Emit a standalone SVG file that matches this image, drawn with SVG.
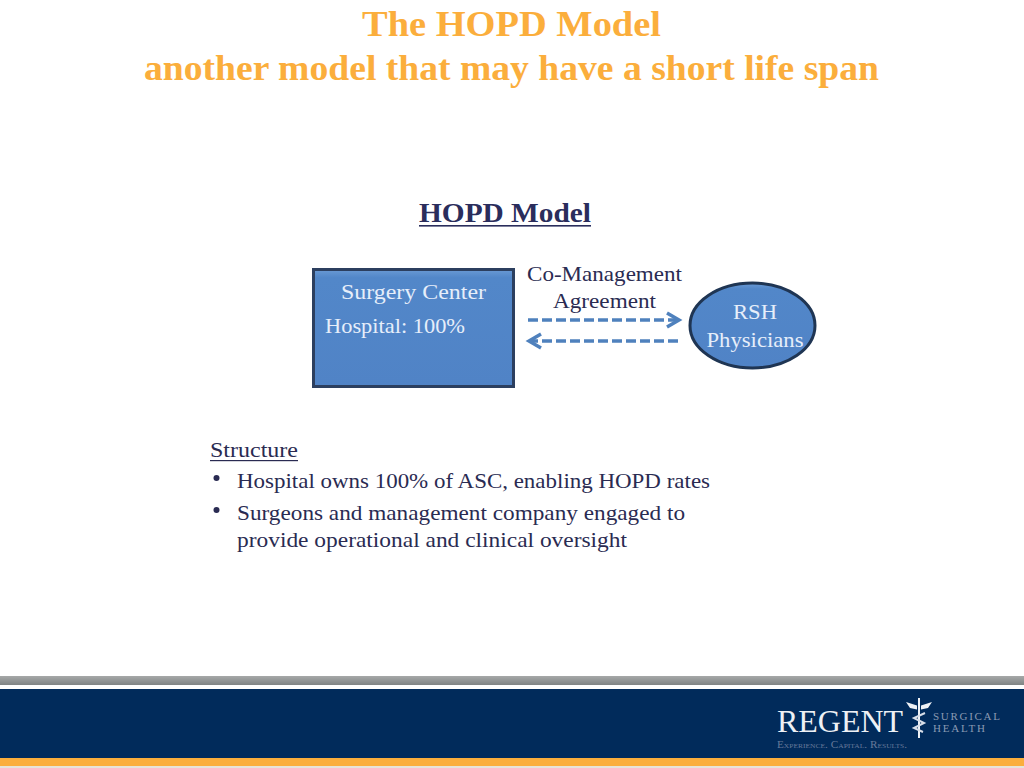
<svg xmlns="http://www.w3.org/2000/svg" width="1024" height="768" viewBox="0 0 1024 768">
<defs>
<style>
text{font-family:"Liberation Serif","Times New Roman",serif}
.title{font-size:36px;font-weight:bold;fill:#fbae3c}
.dark{font-size:22px;fill:#2a2b52}
.light{font-size:22px;fill:#e6eefa}
.link{fill:none;stroke:#4f81bd;stroke-width:3.5;stroke-dasharray:10 4}
.head{fill:none;stroke:#4f81bd;stroke-width:3.5}
</style>
<linearGradient id="grey" x1="0" y1="0" x2="0" y2="1"><stop offset="0" stop-color="#a6a8a8"/><stop offset="1" stop-color="#808484"/></linearGradient>
<linearGradient id="nodeFill" x1="0" y1="0" x2="0" y2="1"><stop offset="0" stop-color="#6a9ad4"/><stop offset="0.07" stop-color="#5287c9"/><stop offset="1" stop-color="#5083c6"/></linearGradient>
</defs>
<rect width="1024" height="768" fill="#ffffff"/>
<g id="title">
<text class="title" x="362" y="36" textLength="299" lengthAdjust="spacingAndGlyphs">The HOPD Model</text>
<text class="title" x="144" y="80" textLength="735" lengthAdjust="spacingAndGlyphs">another model that may have a short life span</text>
</g>
<g id="heading">
<text x="419" y="222" font-size="27" font-weight="bold" fill="#2a2d5c" textLength="172" lengthAdjust="spacingAndGlyphs">HOPD Model</text>
<rect x="419" y="225" width="172" height="1.6" fill="#2a2d5c"/>
</g>
<g id="connectors">
<path class="link" d="M528 320H676"/>
<path class="head" d="M667 313L679 320L667 327"/>
<path class="link" d="M678 341H532"/>
<path class="head" d="M541 334L529 341L541 348"/>
</g>
<g id="label-agreement">
<text class="dark" x="604.500" y="281" text-anchor="middle" textLength="155" lengthAdjust="spacingAndGlyphs">Co-Management</text>
<text class="dark" x="604.500" y="308" text-anchor="middle" textLength="103" lengthAdjust="spacingAndGlyphs">Agreement</text>
</g>
<g id="node-surgery-center">
<rect x="313.500" y="269.500" width="200" height="117" fill="url(#nodeFill)" stroke="#2c3f5f" stroke-width="3"/>
<text class="light" x="341" y="299" textLength="145" lengthAdjust="spacingAndGlyphs">Surgery Center</text>
<text class="light" x="325" y="333" textLength="140" lengthAdjust="spacingAndGlyphs">Hospital: 100%</text>
</g>
<g id="node-rsh-physicians">
<ellipse cx="752.500" cy="325.500" rx="62.500" ry="42.500" fill="url(#nodeFill)" stroke="#1f3553" stroke-width="3"/>
<text class="light" x="755" y="319" text-anchor="middle" textLength="44" lengthAdjust="spacingAndGlyphs">RSH</text>
<text class="light" x="755" y="347" text-anchor="middle" textLength="97" lengthAdjust="spacingAndGlyphs">Physicians</text>
</g>
<g id="structure">
<text class="dark" x="210" y="456.500" textLength="88" lengthAdjust="spacingAndGlyphs">Structure</text>
<rect x="210" y="460" width="88" height="1.200" fill="#2a2b52"/>
<circle cx="216.500" cy="478" r="3" fill="#2a2b52"/>
<text class="dark" x="237" y="488" textLength="473" lengthAdjust="spacingAndGlyphs">Hospital owns 100% of ASC, enabling HOPD rates</text>
<circle cx="216.500" cy="510" r="3" fill="#2a2b52"/>
<text class="dark" x="237" y="520" textLength="448" lengthAdjust="spacingAndGlyphs">Surgeons and management company engaged to</text>
<text class="dark" x="237" y="547" textLength="390" lengthAdjust="spacingAndGlyphs">provide operational  and clinical oversight</text>
</g>
<g id="footer">
<rect x="0" y="676" width="1024" height="9" fill="url(#grey)"/>
<rect x="0" y="689" width="1024" height="69" fill="#012b5b"/>
<rect x="0" y="758" width="1024" height="8" fill="#fbae3c"/>
<rect x="0" y="766" width="1024" height="2" fill="#e8e4d8"/>
</g>
<g id="logo">
<text x="777" y="732" font-size="31" fill="#eef1f5" textLength="126" lengthAdjust="spacingAndGlyphs">REGENT</text>
<text x="933" y="720" font-size="11" fill="#8a9ab2" textLength="67" lengthAdjust="spacing">SURGICAL</text>
<text x="933" y="732" font-size="11" fill="#8a9ab2" textLength="52" lengthAdjust="spacing">HEALTH</text>
<text x="777" y="748" font-size="10.500" fill="#66799a" textLength="130" lengthAdjust="spacingAndGlyphs" style="font-variant:small-caps">Experience. Capital. Results.</text>
<path d="M906 702L917 705.500V709.500L910 708ZM932 702L921 705.500V709.500L928 708Z" fill="#eef1f5"/>
<path d="M919 698V738" stroke="#eef1f5" stroke-width="2" fill="none"/>
<path d="M925 713L914 718L924 723L914 728L923 732" stroke="#d8dee8" stroke-width="2" fill="none"/>
</g>
</svg>
